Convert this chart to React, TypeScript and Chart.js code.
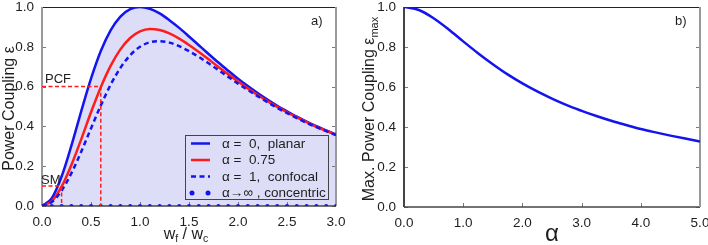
import { useEffect, useRef } from "react";
import { Chart, registerables } from "chart.js";
Chart.register(...registerables);

// ---------- data ----------
const ratioX = [0, 0.1, 0.2, 0.3, 0.4, 0.5, 0.6, 0.7, 0.8, 0.9, 1.0, 1.1, 1.2, 1.3, 1.4, 1.5, 1.6, 1.7, 1.8, 1.9, 2.0, 2.1, 2.2, 2.3, 2.4, 2.5, 2.6, 2.7, 2.8, 2.9, 3.0];
const planar = [0, 0.039, 0.148, 0.303, 0.476, 0.64, 0.779, 0.883, 0.952, 0.989, 1.0, 0.991, 0.968, 0.934, 0.895, 0.852, 0.808, 0.764, 0.721, 0.68, 0.64, 0.603, 0.568, 0.535, 0.504, 0.476, 0.449, 0.424, 0.401, 0.38, 0.36];
const alpha075 = [0, 0.025, 0.097, 0.206, 0.335, 0.471, 0.597, 0.704, 0.787, 0.844, 0.877, 0.889, 0.884, 0.867, 0.841, 0.809, 0.774, 0.737, 0.699, 0.662, 0.626, 0.591, 0.558, 0.527, 0.498, 0.471, 0.445, 0.421, 0.398, 0.378, 0.358];
const confocal = [0, 0.02, 0.077, 0.165, 0.273, 0.39, 0.505, 0.609, 0.694, 0.758, 0.8, 0.823, 0.828, 0.821, 0.803, 0.778, 0.749, 0.717, 0.683, 0.649, 0.615, 0.583, 0.552, 0.522, 0.493, 0.467, 0.442, 0.418, 0.396, 0.376, 0.356];
const concentric = [0, 0, 0, 0, 0, 0, 0, 0, 0, 0, 0, 0, 0, 0, 0, 0, 0, 0, 0, 0, 0, 0, 0, 0, 0, 0, 0, 0, 0, 0, 0];
const pcfX = [0, 0.6, 0.6];
const pcfY = [0.6, 0.6, 0];
const smX = [0, 0.2, 0.2];
const smY = [0.1, 0.1, 0];

const alphaX = [0, 0.25, 0.5, 0.75, 1.0, 1.25, 1.5, 1.75, 2.0, 2.25, 2.5, 2.75, 3.0, 3.25, 3.5, 3.75, 4.0, 4.25, 4.5, 4.75, 5.0];
const epsMax = [1.0, 0.985, 0.944, 0.889, 0.828, 0.769, 0.714, 0.663, 0.618, 0.578, 0.542, 0.509, 0.481, 0.455, 0.431, 0.41, 0.39, 0.373, 0.357, 0.342, 0.328];

const xTicksA = [0, 0.5, 1.0, 1.5, 2.0, 2.5, 3.0];
const xTicksB = [0, 1, 2, 3, 4, 5];
const yTicks = [0, 0.2, 0.4, 0.6, 0.8, 1.0];
const legendLabels = ["\u03B1 =  0,  planar", "\u03B1 =  0.75", "\u03B1 =  1,  confocal", "\u03B1\u2192\u221E , concentric"];

// ---------- styles ----------
const FONT = "'Liberation Sans', Arial, Helvetica, sans-serif";
const BLUE = "#1414ee";
const RED = "#ff1c1c";
const FILL = "rgb(221,221,248)";
const TEXT = "#1e1e1e";

const zip = (xs: number[], ys: number[]) => xs.map((x, i) => ({ x, y: ys[i] }));

function framePlugin(xTicks: number[], leftColor: string) {
  return {
    id: "frame",
    beforeDatasetsDraw(chart: any) {
      const { ctx, chartArea, scales } = chart;
      const { left, right, top, bottom } = chartArea;
      ctx.save();
      ctx.strokeStyle = "#777";
      ctx.lineWidth = 1;
      for (const v of yTicks) {
        const py = Math.round(scales.y.getPixelForValue(v)) + 0.5;
        ctx.beginPath();
        ctx.moveTo(left, py);
        ctx.lineTo(left + 4, py);
        ctx.moveTo(right - 4, py);
        ctx.lineTo(right, py);
        ctx.stroke();
      }
      for (const v of xTicks) {
        const px = Math.round(scales.x.getPixelForValue(v)) + 0.5;
        ctx.beginPath();
        ctx.moveTo(px, bottom);
        ctx.lineTo(px, bottom - 4);
        ctx.stroke();
      }
      ctx.lineWidth = 1;
      ctx.strokeStyle = "#222";
      ctx.beginPath();
      ctx.moveTo(left, top + 0.5);
      ctx.lineTo(right, top + 0.5);
      ctx.stroke();
      ctx.lineWidth = 1.5;
      ctx.strokeStyle = "#444";
      ctx.beginPath();
      ctx.moveTo(left, bottom);
      ctx.lineTo(right, bottom);
      ctx.stroke();
      ctx.lineWidth = 2;
      ctx.strokeStyle = leftColor;
      ctx.beginPath();
      ctx.moveTo(left, top);
      ctx.lineTo(left, bottom);
      ctx.stroke();
      ctx.strokeStyle = "#999";
      ctx.beginPath();
      ctx.moveTo(right, top);
      ctx.lineTo(right, bottom);
      ctx.stroke();
      ctx.restore();
    },
  };
}

function drawSubText(ctx: CanvasRenderingContext2D, parts: { t: string; size: number; dy: number }[], cx: number, cy: number) {
  let total = 0;
  for (const p of parts) {
    ctx.font = `${p.size}px ${FONT}`;
    total += ctx.measureText(p.t).width;
  }
  let x = cx - total / 2;
  for (const p of parts) {
    ctx.font = `${p.size}px ${FONT}`;
    ctx.fillText(p.t, x, cy + p.dy);
    x += ctx.measureText(p.t).width;
  }
}

const annotationsA = {
  id: "annA",
  afterDatasetsDraw(chart: any) {
    const { ctx, chartArea } = chart;
    ctx.save();
    ctx.fillStyle = TEXT;
    ctx.textBaseline = "alphabetic";
    ctx.textAlign = "left";
    ctx.font = `13px ${FONT}`;
    ctx.fillText("PCF", 45, 83);
    ctx.fillText("SM", 41, 184);
    ctx.fillText("a)", chartArea.right - 25, 25);
    // legend
    const bx = 185, by = 135, bw = 143, bh = 64;
    ctx.fillStyle = FILL;
    ctx.fillRect(bx, by, bw, bh);
    ctx.strokeStyle = "#444";
    ctx.lineWidth = 1;
    ctx.strokeRect(bx + 0.5, by + 0.5, bw, bh);
    const rows = [143.5, 160, 176.5, 193];
    ctx.lineWidth = 2.5;
    ctx.strokeStyle = BLUE;
    ctx.beginPath(); ctx.moveTo(191, rows[0]); ctx.lineTo(210, rows[0]); ctx.stroke();
    ctx.strokeStyle = RED;
    ctx.beginPath(); ctx.moveTo(191, rows[1]); ctx.lineTo(210, rows[1]); ctx.stroke();
    ctx.strokeStyle = BLUE;
    ctx.setLineDash([5, 3.5]);
    ctx.beginPath(); ctx.moveTo(191, rows[2]); ctx.lineTo(210, rows[2]); ctx.stroke();
    ctx.setLineDash([]);
    ctx.fillStyle = BLUE;
    for (const dx of [192, 208]) {
      ctx.beginPath(); ctx.arc(dx, rows[3], 2.5, 0, Math.PI * 2); ctx.fill();
    }
    ctx.fillStyle = TEXT;
    ctx.font = `13.5px ${FONT}`;
    ctx.textBaseline = "middle";
    legendLabels.forEach((l, i) => ctx.fillText(l, 222, rows[i] + 0.5));
    // titles
    ctx.textBaseline = "alphabetic";
    drawSubText(ctx, [
      { t: "w", size: 16, dy: 0 },
      { t: "f", size: 10.5, dy: 3 },
      { t: " / w", size: 16, dy: 0 },
      { t: "c", size: 10.5, dy: 3 },
    ], (chartArea.left + chartArea.right) / 2 - 3, 239);
    ctx.translate(14, (chartArea.top + chartArea.bottom) / 2 + 2);
    ctx.rotate(-Math.PI / 2);
    ctx.textAlign = "center";
    ctx.font = `16px ${FONT}`;
    ctx.fillText("Power Coupling \u03B5", 0, 0);
    ctx.restore();
  },
};

const annotationsB = {
  id: "annB",
  afterDatasetsDraw(chart: any) {
    const { ctx, chartArea } = chart;
    ctx.save();
    ctx.fillStyle = TEXT;
    ctx.font = `13px ${FONT}`;
    ctx.textAlign = "left";
    ctx.fillText("b)", chartArea.right - 25, 25);
    ctx.font = `24px ${FONT}`;
    ctx.textAlign = "center";
    ctx.fillText("\u03B1", (chartArea.left + chartArea.right) / 2, 241);
    ctx.translate(20, (chartArea.top + chartArea.bottom) / 2 + 2);
    ctx.rotate(-Math.PI / 2);
    ctx.textAlign = "left";
    drawSubText(ctx, [
      { t: "Max. Power Coupling \u03B5", size: 16, dy: 0 },
      { t: "max", size: 11, dy: 4 },
    ], 0, 0);
    ctx.restore();
  },
};

const zeroPad = (s: any) => {
  s.paddingTop = 0;
  s.paddingBottom = 0;
  s.paddingLeft = 0;
  s.paddingRight = 0;
};

function scales(xMax: number, xTicks: number[], yWidth: number, xHeight: number) {
  const tickFont = { family: FONT, size: 13.5 };
  return {
    x: {
      type: "linear",
      min: 0,
      max: xMax,
      afterBuildTicks: (s: any) => { s.ticks = xTicks.map((v) => ({ value: v })); },
      afterFit: (s: any) => { s.height = xHeight; zeroPad(s); },
      ticks: { font: tickFont, color: TEXT, padding: 8, maxRotation: 0, autoSkip: false, callback: (v: any) => Number(v).toFixed(1) },
      grid: { display: false, drawTicks: false },
      border: { display: false },
    },
    y: {
      type: "linear",
      min: 0,
      max: 1,
      afterBuildTicks: (s: any) => { s.ticks = yTicks.map((v) => ({ value: v })); },
      afterFit: (s: any) => { s.width = yWidth; zeroPad(s); },
      ticks: { font: tickFont, color: TEXT, padding: 8, autoSkip: false, callback: (v: any) => Number(v).toFixed(1) },
      grid: { display: false, drawTicks: false },
      border: { display: false },
    },
  };
}

export default function App() {
  const refA = useRef<HTMLCanvasElement>(null);
  const refB = useRef<HTMLCanvasElement>(null);

  useEffect(() => {
    document.body.style.margin = "0";
    const line = { pointRadius: 0, cubicInterpolationMode: "monotone", fill: false };
    const chartA = new Chart(refA.current!, {
      type: "line",
      data: {
        datasets: [
          { ...line, data: zip(pcfX, pcfY), borderColor: RED, borderWidth: 1.5, borderDash: [4, 2.5], cubicInterpolationMode: "default", tension: 0 },
          { ...line, data: zip(smX, smY), borderColor: RED, borderWidth: 1.5, borderDash: [4, 2.5], cubicInterpolationMode: "default", tension: 0 },
          { ...line, data: zip(ratioX, concentric), showLine: false, pointRadius: 2, pointBackgroundColor: BLUE, pointBorderWidth: 0, borderColor: BLUE },
          { ...line, data: zip(ratioX, confocal), borderColor: BLUE, borderWidth: 2.5, borderDash: [5, 3.5] },
          { ...line, data: zip(ratioX, alpha075), borderColor: RED, borderWidth: 2.5 },
          { ...line, data: zip(ratioX, planar), borderColor: BLUE, borderWidth: 2.5, fill: "origin", backgroundColor: FILL },
        ],
      },
      options: {
        responsive: false,
        animation: false,
        devicePixelRatio: 1,
        layout: { padding: { top: 7, right: 18, left: 0, bottom: 0 } },
        scales: scales(3, xTicksA, 42, 39) as any,
        plugins: { legend: { display: false }, tooltip: { enabled: false }, filler: { drawTime: "beforeDatasetsDraw" } as any },
      } as any,
      plugins: [framePlugin(xTicksA, "#999"), annotationsA],
    } as any);
    const chartB = new Chart(refB.current!, {
      type: "line",
      data: {
        datasets: [
          { ...line, data: zip(alphaX, epsMax), borderColor: BLUE, borderWidth: 2.5 },
        ],
      },
      options: {
        responsive: false,
        animation: false,
        devicePixelRatio: 1,
        layout: { padding: { top: 7, right: 8, left: 0, bottom: 0 } },
        scales: scales(5, xTicksB, 50, 38) as any,
        plugins: { legend: { display: false }, tooltip: { enabled: false } },
      } as any,
      plugins: [framePlugin(xTicksB, "#444"), annotationsB],
    } as any);
    return () => {
      chartA.destroy();
      chartB.destroy();
    };
  }, []);

  return (
    <div style={{ display: "flex", width: 708, height: 245, background: "#fff" }}>
      <canvas ref={refA} width={354} height={245} style={{ display: "block" }} />
      <canvas ref={refB} width={354} height={245} style={{ display: "block" }} />
    </div>
  );
}
